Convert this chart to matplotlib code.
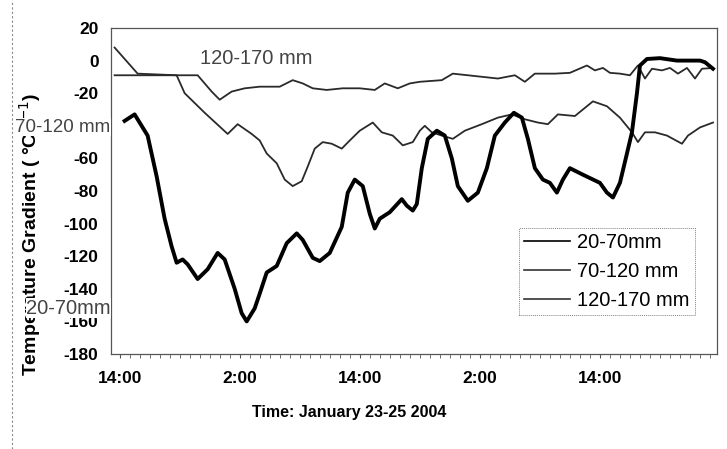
import matplotlib
matplotlib.use("Agg")
import matplotlib.pyplot as plt
from matplotlib.lines import Line2D
from matplotlib.ticker import MultipleLocator, FixedLocator

plt.rcParams['font.family'] = ['Liberation Sans', 'DejaVu Sans']
plt.rcParams['axes.unicode_minus'] = False

# Hours since 14:00, January 23 2004
hours_20_70 = [0.5, 1.5, 2.8, 3.7, 4.5, 5.2, 5.7, 6.3, 6.8, 7.8, 8.8, 9.8, 10.5, 11.5, 12.2, 12.7,
               13.5, 14.0, 14.7, 15.7, 16.7, 17.7, 18.3, 19.3, 20.0, 21.0, 22.2, 22.8, 23.5, 24.3,
               25.0, 25.5, 26.0, 27.0, 28.2, 28.7, 29.3, 29.7, 30.2, 30.8, 31.7, 32.5, 33.2, 33.8,
               34.8, 35.8, 36.7, 37.5, 38.5, 39.4, 40.2, 40.8, 41.5, 42.3, 43.0, 43.7, 44.3, 45.0,
               46.3, 48.0, 48.7, 49.3, 50.0, 50.7, 51.2, 51.7, 52.0, 52.7, 54.0, 55.7, 58.0, 58.5, 59.3]
grad_20_70 = [-37, -33, -46, -71, -97, -114, -124, -122, -125, -134, -128, -118, -122, -140, -155, -160,
              -152, -143, -130, -126, -112, -106, -110, -121, -123, -118, -102, -81, -73, -77,
              -94, -103, -97, -93, -85, -89, -92, -88, -66, -48, -43, -46, -60, -77,
              -86, -81, -66, -46, -38, -32, -35, -48, -66, -73, -75, -81, -73, -66,
              -70, -75, -81, -84, -75, -57, -44, -20, -3, 1, 1.5, 0, 0, -1, -5]

hours_70_120 = [-0.5, 1.8, 5.7, 6.5, 8.5, 10.8, 11.8, 13.2, 14.0, 14.7, 15.7, 16.5, 17.3, 18.2, 18.8,
                19.5, 20.3, 21.2, 22.2, 23.0, 24.0, 25.3, 26.2, 27.3, 28.3, 29.3, 30.0, 30.5, 31.2,
                32.2, 33.3, 34.5, 36.2, 37.8, 39.2, 40.5, 41.8, 42.8, 43.8, 45.5, 46.3, 47.3, 48.7,
                50.0, 51.2, 51.8, 52.5, 53.5, 54.7, 55.3, 56.2, 56.8, 58.0, 59.3]
grad_70_120 = [8, -8, -9, -20, -32, -45, -39, -45, -49, -57, -63, -73, -77, -74, -65,
               -54, -50, -51, -54, -49, -43, -38, -44, -46, -52, -50, -43, -40, -44,
               -46, -48, -43, -39, -35, -33, -36, -38, -39, -33, -34, -30, -25, -28,
               -35, -44, -50, -44, -44, -46, -48, -51, -46, -41, -38]

hours_120_170 = [-0.5, 7.8, 9.2, 10.0, 11.2, 12.5, 14.0, 16.0, 17.3, 18.3, 19.3, 20.7, 22.3, 24.0,
                 25.5, 26.5, 27.8, 29.0, 30.0, 32.2, 33.3, 34.8, 37.8, 39.5, 40.5, 41.5, 43.5, 45.0,
                 46.7, 47.5, 48.3, 49.0, 50.0, 51.0, 51.8, 52.5, 53.2, 54.2, 55.0, 55.8, 56.7, 57.5,
                 58.2, 59.3]
grad_120_170 = [-9, -9, -19, -24, -19, -17, -16, -16, -12, -14, -17, -18, -17, -17,
                -18, -14, -17, -14, -13, -12, -8, -9, -11, -9, -13, -8, -8, -7.5,
                -3, -6, -4.5, -7.5, -8, -9, -3, -11, -5, -6, -4.5, -8, -4.5, -11,
                -5, -4.5]

tick_hours = [0, 12, 24, 36, 48]
tick_labels = ["14:00", "2:00", "14:00", "2:00", "14:00"]
series_labels = ["20-70mm", "70-120 mm", "120-170 mm"]

W, H = 727, 449
fig = plt.figure(figsize=(W / 100, H / 100), dpi=100)
ax = fig.add_axes([111 / W, 1 - 354 / H, (717 - 111) / W, (354 - 28) / H])

ax.plot(hours_120_170, grad_120_170, color='#2a2a2a', lw=1.3, zorder=2)
ax.plot(hours_70_120, grad_70_120, color='#2a2a2a', lw=1.3, zorder=2)
ax.plot(hours_20_70, grad_20_70, color='#000000', lw=2.8, zorder=3)

ax.set_xlim(-0.86, 59.7)
ax.set_ylim(-180, 20)
ax.set_yticks(range(-180, 21, 20))
ax.xaxis.set_major_locator(FixedLocator(tick_hours))
ax.set_xticklabels(tick_labels)
ax.xaxis.set_minor_locator(MultipleLocator(1))

for sp in ax.spines.values():
    sp.set_linestyle((0, (1, 1)))
    sp.set_color('#555555')
    sp.set_linewidth(0.9)

ax.tick_params(axis='y', length=0, pad=9, labelsize=12.5)
ax.tick_params(axis='x', which='both', length=3, direction='out', color='#555555', pad=9, labelsize=12.5)
for lab in ax.get_xticklabels() + ax.get_yticklabels():
    lab.set_fontweight('bold')

fig.text(349 / W, 1 - 413 / H, "Time: January 23-25 2004", ha='center', va='center',
         fontsize=11.5, fontweight='bold')
fig.text(30 / W, 1 - 234 / H, "Temperature Gradient ( °C(ı$^{-1}$)", rotation=90,
         ha='center', va='center', fontsize=14, fontweight='bold')

# in-plot annotations
ann_kw = dict(color='#444444', va='center', ha='left', zorder=5,
              bbox=dict(facecolor='white', edgecolor='none', pad=0.3))
fig.text(15 / W, 1 - 127 / H, "70-120 mm", fontsize=13.5, **ann_kw)
fig.text(26 / W, 1 - 308 / H, "20-70mm", fontsize=14.5, **ann_kw)
fig.text(200 / W, 1 - 59 / H, "120-170 mm", fontsize=14.5, color='#444444', va='center', ha='left')

handles = [Line2D([], [], color='#000000', lw=1.2),
           Line2D([], [], color='#333333', lw=1.2),
           Line2D([], [], color='#333333', lw=1.2)]
leg = ax.legend(handles, series_labels, loc='upper left',
                bbox_to_anchor=((519 - 111) / (717 - 111), (354 - 228) / (354 - 28)),
                prop={'size': 14.5}, frameon=True, fancybox=False, handlelength=2.3,
                handletextpad=0.35, labelspacing=0.5, borderpad=0.25, borderaxespad=0)
leg.get_frame().set_edgecolor('#666666')
leg.get_frame().set_linewidth(0.7)
leg.get_frame().set_linestyle((0, (1, 1)))

fig.add_artist(Line2D([12 / W, 12 / W], [0, 1], color='#888888', lw=0.8, linestyle=(0, (2, 2))))

fig.savefig("out.png", dpi=100)
